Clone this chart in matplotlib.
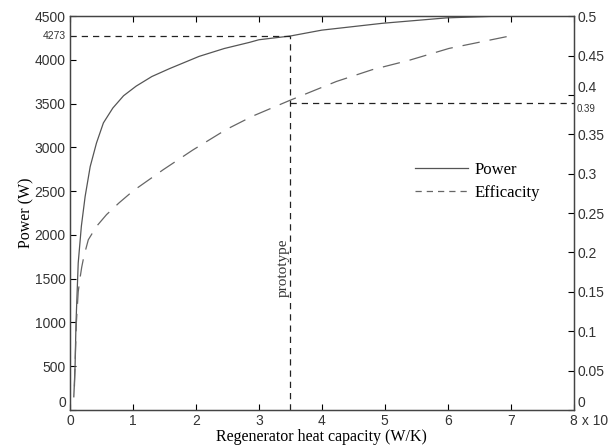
import numpy as np
import matplotlib; matplotlib.use("Agg")
import matplotlib.pyplot as plt
from matplotlib.lines import Line2D

# power curve (left axis, W)
cap_p   = [0.06, 0.08, 0.095, 0.13, 0.18, 0.24, 0.32, 0.42, 0.53, 0.68, 0.85,
           1.05, 1.3, 1.58, 2.05, 2.45, 2.85, 3.0, 3.5, 4.0, 4.96, 5.98, 6.8, 7.0]
power   = [150, 500, 1000, 1680, 2100, 2440, 2780, 3050, 3280, 3450, 3590,
           3700, 3810, 3900, 4040, 4130, 4200, 4230, 4273, 4340, 4418, 4480,
           4500, 4510]
# efficacity curve (right axis)
cap_e   = [0.07, 0.1, 0.13, 0.16, 0.185, 0.22, 0.29, 0.42, 0.58, 0.78, 1.0, 1.48,
           1.95, 2.48, 2.9, 3.49, 4.23, 4.8, 5.39, 6.02, 7.0]
effic   = [0.03, 0.11, 0.15, 0.168, 0.181, 0.195, 0.216, 0.233, 0.248, 0.263,
           0.278, 0.305, 0.330, 0.356, 0.373, 0.393, 0.417, 0.432, 0.444, 0.459,
           0.475]

proto_x, proto_p, proto_e = 3.5, 4273, 0.39
xticks  = [0, 1, 2, 3, 4, 5, 6, 7, 8]
pticks  = [0, 500, 1000, 1500, 2000, 2500, 3000, 3500, 4000, 4500]
eticks  = [0, 0.05, 0.1, 0.15, 0.2, 0.25, 0.3, 0.35, 0.4, 0.45, 0.5]

SERIF = ["Liberation Serif", "DejaVu Serif"]
SANS  = ["Liberation Sans", "DejaVu Sans"]
TCOL  = "#333333"

fig = plt.figure(figsize=(6.09, 4.48), dpi=100)
ax = fig.add_axes([0.115, 0.085, 0.827, 0.879])
ax2 = ax.twinx()

ax.plot(cap_p, power, color="#555555", lw=0.9, solid_joinstyle="round")
ax2.plot(cap_e, effic, color="#666666", lw=0.9, dashes=(14, 8))

dk = dict(color="#222222", lw=0.9, dashes=(5, 4))
ax.plot([0, proto_x], [proto_p, proto_p], **dk)
ax.plot([proto_x, proto_x], [0, proto_p], **dk)
ax2.plot([proto_x, 8], [proto_e, proto_e], **dk)

ax.set_xlim(0, 8); ax.set_ylim(0, 4500)
ax2.set_ylim(0, 0.5)
ax.set_xticks(xticks); ax.set_yticks(pticks)
ax2.set_yticks(eticks)
ax.set_yticklabels([str(v) for v in pticks], family=SANS, fontsize=10, color=TCOL)
ax.set_xticklabels([str(v) for v in xticks], family=SANS, fontsize=10, color=TCOL)
ax2.set_yticklabels([("%g" % v) for v in eticks], family=SANS, fontsize=10, color=TCOL)
ax.tick_params(direction="in", top=True, length=4, width=0.8, pad=3)
ax2.tick_params(direction="in", length=4, width=0.8, pad=3)
# MATLAB-style: zero labels sit slightly above the bottom axis
ax.get_yticklabels()[0].set_va("bottom")
ax2.get_yticklabels()[0].set_va("bottom")
ax2.get_yticklabels()[8].set_va("bottom")
for a in (ax, ax2):
    for s in a.spines.values():
        s.set_color("#444444"); s.set_linewidth(0.9)

ax.annotate(" x 10", xy=(1, 0), xycoords="axes fraction", xytext=(3, -3),
            textcoords="offset points", ha="left", va="top",
            family=SANS, fontsize=10, color=TCOL)
ax.annotate(str(proto_p), xy=(0, proto_p), xycoords=("axes fraction", "data"),
            xytext=(-3, 0), textcoords="offset points", ha="right", va="center",
            family=SANS, fontsize=7.5, color=TCOL)
ax2.annotate(str(proto_e), xy=(1, proto_e), xycoords=("axes fraction", "data"),
             xytext=(2, -1), textcoords="offset points", ha="left", va="top",
             family=SANS, fontsize=7, color=TCOL)
ax.text(proto_x - 0.12, 1630, "prototype", rotation=90, ha="center", va="center",
        family=SERIF, fontsize=11, color="#333333")

ax.set_xlabel("Regenerator heat capacity (W/K)", family=SERIF, fontsize=11.5,
              labelpad=1)
ax.set_ylabel("Power (W)", family=SERIF, fontsize=11.5, labelpad=0)

hands = [Line2D([], [], color="#555555", lw=0.9),
         Line2D([], [], color="#666666", lw=0.9, dashes=(5, 4))]
ax.legend(hands, ["Power", "Efficacity"], loc="center left",
          bbox_to_anchor=(0.655, 0.58), frameon=False, handlelength=3.2,
          handletextpad=0.4, prop={"family": SERIF, "size": 12},
          labelspacing=0.45)

fig.savefig("out.png", dpi=100)
